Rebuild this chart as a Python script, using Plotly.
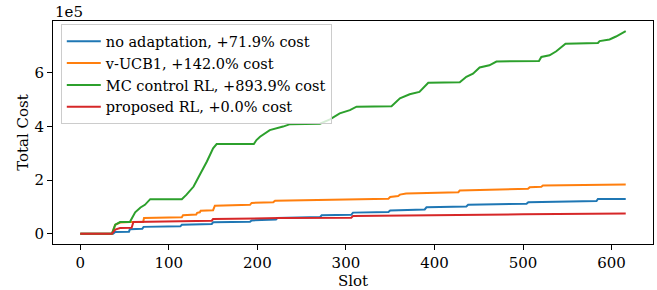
import plotly.graph_objects as go

# values in units of 1e5
names = ["no adaptation, +71.9% cost", "v-UCB1, +142.0% cost",
         "MC control RL, +893.9% cost", "proposed RL, +0.0% cost"]
colors = ["#1f77b4", "#ff7f0e", "#2ca02c", "#d62728"]

blue_x = [0, 37, 39.5, 55, 56, 70, 71.5, 113, 114.7, 148.5, 150, 191.7, 193.5, 221, 222.5,
          271, 272.6, 306, 308, 348, 350, 389, 391, 436, 438, 504, 506, 583, 584.6, 616]
blue_y = [0, 0, 0.07, 0.08, 0.17, 0.19, 0.26, 0.28, 0.34, 0.37, 0.43, 0.45, 0.50, 0.53, 0.59,
          0.63, 0.69, 0.71, 0.79, 0.81, 0.87, 0.91, 0.99, 1.02, 1.08, 1.12, 1.18, 1.22, 1.30, 1.30]

orange_x = [0, 35.7, 39.5, 45, 56, 71, 72, 114.7, 116, 131, 132, 135, 136, 150, 152, 191.7,
            193.5, 218, 220, 348, 350, 359, 361, 368, 427, 428.5, 505.6, 507.5, 520.7, 522.5, 616]
orange_y = [0, 0, 0.34, 0.42, 0.44, 0.44, 0.59, 0.62, 0.69, 0.72, 0.78, 0.80, 0.86, 0.88, 1.05, 1.08,
            1.15, 1.18, 1.23, 1.31, 1.37, 1.41, 1.46, 1.50, 1.55, 1.61, 1.68, 1.73, 1.75, 1.80, 1.84]

green_x = [0, 35.7, 39.5, 45, 56, 62, 68, 73, 79, 114.7, 120, 128, 135, 143, 150, 154, 196,
           199, 203, 214, 229, 237, 270.7, 282, 293, 304.5, 312, 351.5, 361, 372, 383, 393,
           428.6, 436, 443.5, 451, 462, 470, 518, 520.7, 530, 537.6, 548, 584.6, 586.5,
           597.7, 605, 616]
green_y = [0, 0, 0.34, 0.44, 0.44, 0.80, 0.98, 1.08, 1.29, 1.29, 1.46, 1.76, 2.20, 2.69, 3.18, 3.34, 3.34,
           3.49, 3.61, 3.86, 3.99, 4.08, 4.10, 4.26, 4.48, 4.60, 4.73, 4.75, 5.04, 5.19, 5.28, 5.62,
           5.64, 5.84, 5.96, 6.19, 6.27, 6.41, 6.43, 6.58, 6.64, 6.79, 7.07, 7.10, 7.17,
           7.23, 7.34, 7.54]

red_x = [0, 35.7, 39.5, 45, 58, 60, 148.5, 150, 225, 306, 308, 400, 500, 616]
red_y = [0, 0, 0.16, 0.22, 0.23, 0.44, 0.49, 0.55, 0.59, 0.60, 0.66, 0.70, 0.73, 0.76]

xticks = [0, 100, 200, 300, 400, 500, 600]
yticks = [0, 2, 4, 6]

series = [(blue_x, blue_y), (orange_x, orange_y), (green_x, green_y), (red_x, red_y)]

fig = go.Figure()
for (xs, ys), n, c in zip(series, names, colors):
    fig.add_trace(go.Scatter(x=xs, y=ys, mode="lines", name=n,
                             line=dict(color=c, width=2), legendgroup=n))

font = dict(family="DejaVu Serif", size=15, color="black")
lfont = dict(family="DejaVu Serif", size=14.5, color="black")
fig.update_layout(
    width=657, height=290,
    margin=dict(l=53, r=4, t=21, b=46),
    paper_bgcolor="white", plot_bgcolor="white",
    font=font,
    showlegend=True,
    legend=dict(x=0.013, y=0.985, xanchor="left", yanchor="top",
                bgcolor="rgba(255,255,255,0.8)", bordercolor="#cccccc", borderwidth=1,
                font=lfont, tracegroupgap=0, itemwidth=34),
)
fig.update_xaxes(range=[-30.8, 646.8], tickvals=xticks, showgrid=False, zeroline=False,
                 showline=True, mirror=True, linecolor="black", linewidth=1,
                 ticks="outside", ticklen=5, tickcolor="black", automargin=False,
                 title=dict(text="Slot", font=font, standoff=2))
fig.update_yaxes(range=[-0.377, 7.917], tickvals=yticks, showgrid=False, zeroline=False,
                 showline=True, mirror=True, linecolor="black", linewidth=1,
                 ticks="outside", ticklen=5, tickcolor="black", automargin=False,
                 title=dict(text="Total Cost", font=font, standoff=2))
fig.add_annotation(text="1e5", xref="paper", yref="paper", x=0, y=1.0,
                   xanchor="left", yanchor="bottom", showarrow=False, font=font,
                   yshift=-2)
fig.write_html("out.html", config={"displayModeBar": False},
               post_script="document.body.style.margin='0';document.body.style.overflow='hidden';")
